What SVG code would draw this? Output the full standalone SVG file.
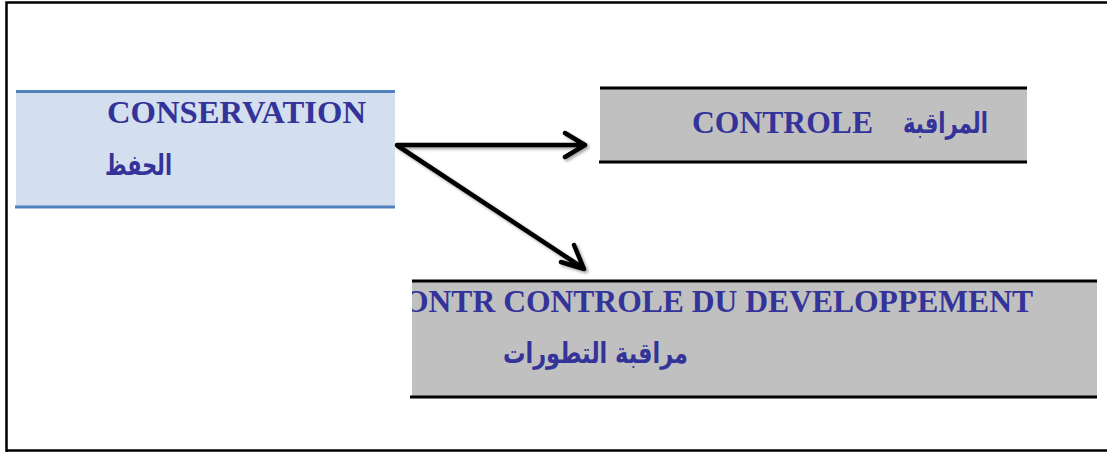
<svg xmlns="http://www.w3.org/2000/svg" width="1107" height="452" viewBox="0 0 1107 452">
  <style>
    .lat { font-family: "Liberation Serif", "Times New Roman", serif; font-weight: bold; font-size: 32px; fill: #333399; }
    .ar { font-family: "DejaVu Sans", "Noto Sans", sans-serif; font-weight: bold; font-size: 29px; fill: #333399; }
    .blueline { stroke: #4F81BD; stroke-width: 3; }
    .blackline { stroke: #000; stroke-width: 3; }
    .arrow { fill: none; stroke: #000; stroke-width: 4.5; stroke-linecap: round; stroke-linejoin: round; }
  </style>
  <defs>
    <filter id="shadow" x="-10%" y="-10%" width="130%" height="130%">
      <feDropShadow dx="2" dy="2" stdDeviation="1.5" flood-color="#000" flood-opacity="0.35"/>
    </filter>
    <clipPath id="clip3">
      <rect x="412" y="282" width="685" height="114"/>
    </clipPath>
  </defs>
  <rect x="0" y="0" width="1107" height="452" fill="#fff"/>
  <g id="frame" fill="none" stroke="#000" stroke-width="2.5">
    <path d="M6.5 452 V2.5 H1107"/>
    <path d="M6.5 450.5 H1107"/>
  </g>
  <g id="node-conservation">
    <rect x="16" y="91" width="379" height="116" fill="#D3DFEE"/>
    <line class="blueline" x1="16" y1="91.5" x2="395" y2="91.5"/>
    <line class="blueline" x1="15" y1="207" x2="395" y2="207"/>
    <text class="lat" x="107" y="123" textLength="259" lengthAdjust="spacingAndGlyphs">CONSERVATION</text>
    <text class="ar" x="172" y="175" style="direction:rtl" textLength="67" lengthAdjust="spacingAndGlyphs">الحفظ</text>
  </g>
  <g id="node-controle">
    <rect x="600" y="88" width="427" height="74" fill="#C0C0C0"/>
    <line class="blackline" x1="600" y1="88" x2="1027" y2="88"/>
    <line class="blackline" x1="599" y1="162" x2="1027" y2="162"/>
    <text class="lat" x="692" y="133" textLength="181" lengthAdjust="spacingAndGlyphs">CONTROLE</text>
    <text class="ar" x="988" y="133" style="direction:rtl" textLength="85" lengthAdjust="spacingAndGlyphs">المراقبة</text>
  </g>
  <g id="node-developpement">
    <rect x="412" y="281" width="685" height="116" fill="#C0C0C0"/>
    <line class="blackline" x1="412" y1="281" x2="1097" y2="281"/>
    <line class="blackline" x1="410" y1="397" x2="1097" y2="397"/>
    <text class="lat" x="404" y="312" clip-path="url(#clip3)" textLength="629" lengthAdjust="spacingAndGlyphs">ONTR CONTROLE DU DEVELOPPEMENT</text>
    <text class="ar" x="688" y="363" style="direction:rtl" textLength="185" lengthAdjust="spacingAndGlyphs">مراقبة التطورات</text>
  </g>
  <g id="connectors" filter="url(#shadow)">
    <path class="arrow" d="M397 145 H584 M565 133 L585 145 L565 157"/>
    <path class="arrow" d="M398 146 L583 268 M561 262 L584 269 L574 245"/>
  </g>
</svg>
